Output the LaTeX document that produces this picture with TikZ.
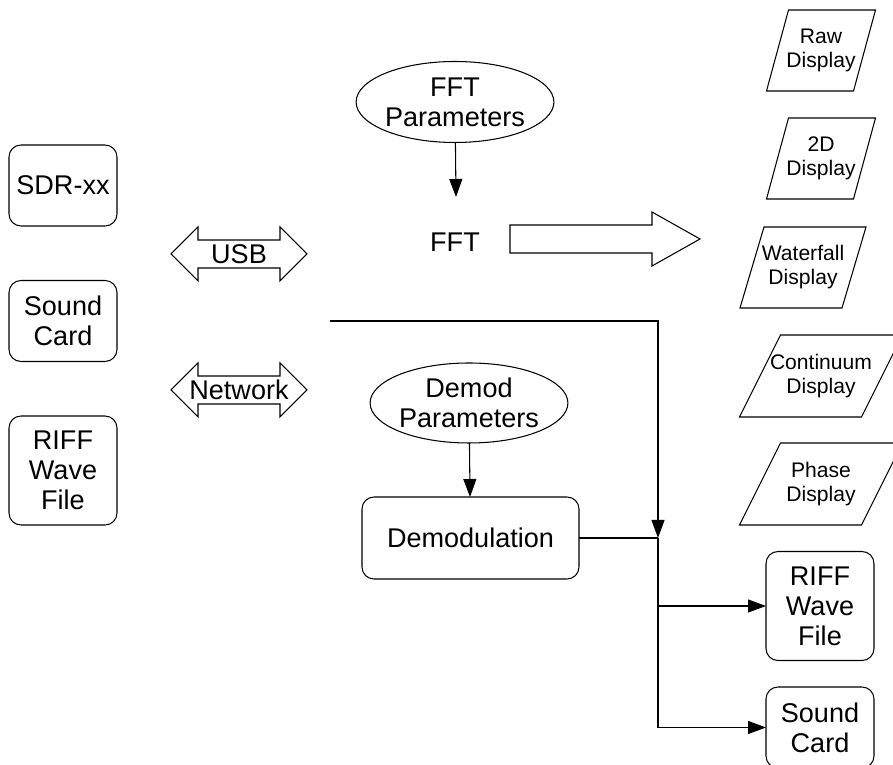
\documentclass[tikz,border=0pt]{standalone}
\usepackage{fontspec}
\setmainfont{Liberation Sans}
\usetikzlibrary{arrows.meta,shapes.geometric}
\begin{document}
\begin{tikzpicture}[inner sep=0pt,outer sep=0pt,line width=0.6pt,
>={Triangle[length=3.6mm,width=2.6mm]},
every node/.style={font=\fontsize{15.4}{17.1}\selectfont,align=center},
rbox/.style={draw,rectangle,rounded corners=2.4mm,minimum width=2.16cm,minimum height=1.62cm},
tallbox/.style={rbox,minimum height=2.18cm},
parm/.style={draw,ellipse,minimum width=3.8cm,minimum height=1.62cm},
disp/.style={font=\fontsize{12}{13.6}\selectfont}]
\useasboundingbox (0,0) rectangle (17.86,15.3);
\draw (1.26,11.59) node[rbox] (sdr) {SDR-xx};
\draw (1.26,8.88) node[rbox] (sndin) {Sound\\Card};
\draw (1.26,5.89) node[tallbox] (riffin) {RIFF\\Wave\\File};
\draw (4.78,10.22) node (usb) {USB};
\draw (4.78,7.5) node (net) {Network};
\foreach \n in {usb,net}
  \draw (\n.center) +(-1.36,0) -- +(-0.82,0.54) -- +(-0.82,0.28) -- +(0.82,0.28) -- +(0.82,0.54) -- +(1.36,0)
    -- +(0.82,-0.54) -- +(0.82,-0.28) -- +(-0.82,-0.28) -- +(-0.82,-0.54) -- cycle;
\draw (9.1,13.26) node[parm] (fftpar) {FFT\\Parameters};
\draw (9.1,10.46) node (fft) {FFT};
\coordinate (fftin) at (9.12,11.36);
\draw (10.2,10.8) -- (13.04,10.8) -- (13.04,11.06) -- (14.0,10.52) -- (13.04,9.98) -- (13.04,10.24) -- (10.2,10.24) -- cycle;
\draw (16.42,14.29) node[disp] (raw) {Raw\\Display};
\draw (16.42,12.13) node[disp] (twod) {2D\\Display};
\draw (16.06,9.95) node[disp] (wfall) {Waterfall\\Display};
\draw (16.42,7.78) node[disp] (cont) {Continuum\\Display};
\draw (16.42,5.62) node[disp] (phase) {Phase\\Display};
\foreach \n/\a/\s/\h in {raw/0.87/0.22/0.81,twod/0.87/0.22/0.81,wfall/1.02/0.24/0.81,cont/1.22/0.41/0.82,phase/1.22/0.41/0.82}
  \draw (\n.center) +(-\a+\s,\h) -- +(\a+\s,\h) -- +(\a-\s,-\h) -- +(-\a-\s,-\h) -- cycle;
\draw (9.38,7.24) node[parm,minimum width=3.78cm,minimum height=1.6cm] (dpar) {Demod\\Parameters};
\draw (9.41,4.54) node[rbox,minimum width=4.34cm,minimum height=1.64cm] (demod) {Demodulation};
\draw (16.4,3.18) node[tallbox] (riffout) {RIFF\\Wave\\File};
\draw (16.4,0.75) node[rbox] (sndout) {Sound\\Card};
\coordinate (tap) at (6.6,8.88);
\coordinate (jn) at (13.16,4.54);
\draw[->] (fftpar) -- (fftin);
\draw[->] (dpar) -- (demod);
\draw[->] (tap) -| (jn);
\draw (demod) -- (jn);
\draw[->] (jn) |- (riffout);
\draw[->] (jn) |- (sndout);
\end{tikzpicture}
\end{document}
